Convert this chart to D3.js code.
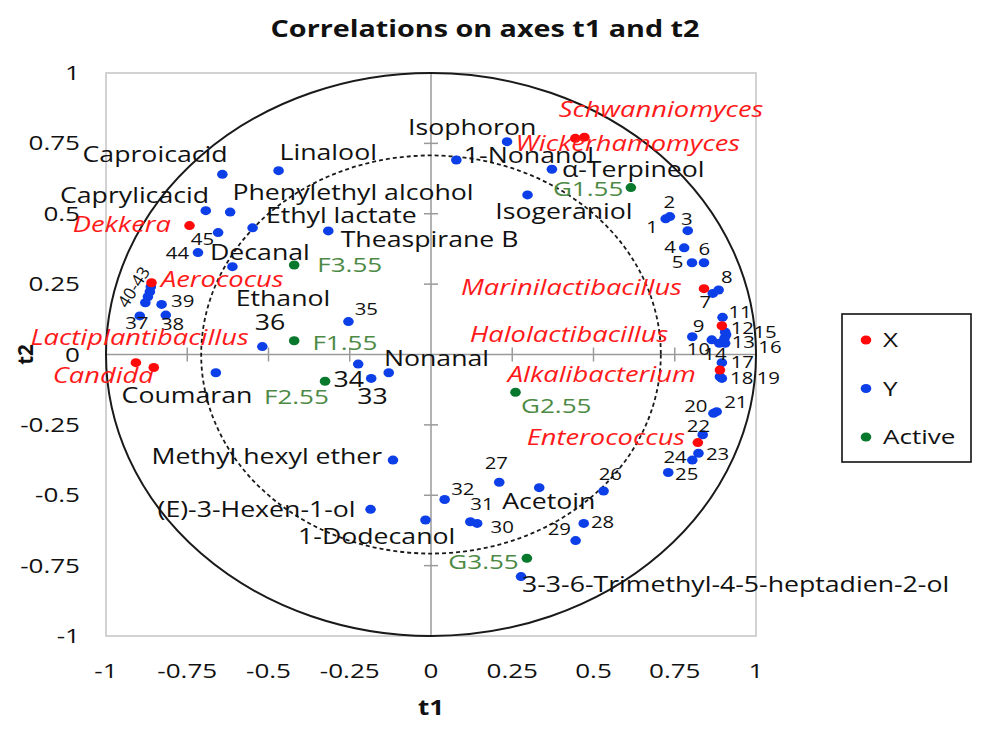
<!DOCTYPE html>
<html><head><meta charset="utf-8">
<script src="https://cdn.jsdelivr.net/npm/d3@7/dist/d3.min.js"></script>
<style>
body{margin:0;background:#fff;}
text{font-family:"Open Sans",sans-serif;}
</style></head><body>
<svg id="chart" width="981" height="731"></svg>
<script>
// ---------- data ----------
const tickValues = [-1, -0.75, -0.5, -0.25, 0, 0.25, 0.5, 0.75, 1];
const tickLabels = ["-1", "-0.75", "-0.5", "-0.25", "0", "0.25", "0.5", "0.75", "1"];
const innerRadius = Math.SQRT1_2;

// X variables (red)
const xPoints = [
  ["Dekkera", -0.743, 0.458],
  ["Aerococus", -0.860, 0.255],
  ["Lactiplantibacillus", -0.908, -0.029],
  ["Candida", -0.853, -0.046],
  ["Schwanniomyces", 0.444, 0.768],
  ["Wickerhamomyces", 0.472, 0.772],
  ["Marinilactibacillus", 0.840, 0.234],
  ["Halolactibacillus", 0.895, 0.102],
  ["Alkalibacterium", 0.889, -0.055],
  ["Enterococcus", 0.821, -0.313]
];

// Y variables (blue)
const yPoints = [
  ["Caproicacid", -0.642, 0.640],
  ["Linalool", -0.469, 0.653],
  ["Caprylicacid", -0.693, 0.511],
  ["Phenylethyl alcohol", -0.618, 0.506],
  ["45", -0.655, 0.433],
  ["Ethyl lactate", -0.549, 0.450],
  ["Theaspirane B", -0.316, 0.439],
  ["44", -0.717, 0.362],
  ["Decanal", -0.611, 0.312],
  ["40", -0.862, 0.241],
  ["41", -0.865, 0.223],
  ["42", -0.871, 0.205],
  ["43", -0.879, 0.184],
  ["39", -0.829, 0.178],
  ["37", -0.896, 0.137],
  ["38", -0.816, 0.140],
  ["35", -0.254, 0.117],
  ["36", -0.519, 0.028],
  ["Coumaran", -0.662, -0.065],
  ["34", -0.224, -0.034],
  ["33", -0.184, -0.085],
  ["Nonanal", -0.130, -0.065],
  ["Methyl hexyl ether", -0.117, -0.375],
  ["(E)-3-Hexen-1-ol", -0.186, -0.550],
  ["1-Dodecanol", -0.017, -0.588],
  ["Isophoron", 0.234, 0.756],
  ["1-Nonanol", 0.078, 0.691],
  ["α-Terpineol", 0.372, 0.658],
  ["Isogeraniol", 0.297, 0.567],
  ["1", 0.722, 0.482],
  ["2", 0.735, 0.490],
  ["3", 0.790, 0.440],
  ["4", 0.779, 0.379],
  ["5", 0.803, 0.326],
  ["6", 0.840, 0.326],
  ["7", 0.867, 0.217],
  ["8", 0.885, 0.229],
  ["9", 0.804, 0.063],
  ["10", 0.864, 0.052],
  ["11", 0.897, 0.132],
  ["12", 0.905, 0.080],
  ["13", 0.903, 0.057],
  ["14", 0.887, 0.040],
  ["15", 0.908, 0.070],
  ["16", 0.905, 0.040],
  ["17", 0.895, -0.029],
  ["18", 0.889, -0.079],
  ["19", 0.895, -0.085],
  ["20", 0.869, -0.209],
  ["21", 0.879, -0.203],
  ["22", 0.836, -0.285],
  ["23", 0.823, -0.351],
  ["24", 0.804, -0.375],
  ["25", 0.730, -0.419],
  ["26", 0.531, -0.485],
  ["27", 0.210, -0.454],
  ["Acetoin", 0.333, -0.473],
  ["28", 0.470, -0.600],
  ["29", 0.445, -0.661],
  ["30", 0.142, -0.600],
  ["31", 0.121, -0.594],
  ["32", 0.042, -0.515],
  ["3-3-6-Trimethyl-4-5-heptadien-2-ol", 0.277, -0.789]
];

// Active observations (green)
const activePoints = [
  ["F1.55", -0.421, 0.049],
  ["F2.55", -0.326, -0.095],
  ["F3.55", -0.421, 0.318],
  ["G1.55", 0.615, 0.593],
  ["G2.55", 0.260, -0.134],
  ["G3.55", 0.295, -0.724]
];

// label anchors in t1/t2 units: [text, t1, t2, anchor, kind]
const pointLabels = [
  ["Caproicacid", -0.626, 0.685, "end", "Y"],
  ["Linalool", -0.466, 0.691, "start", "Y"],
  ["Caprylicacid", -0.683, 0.539, "end", "Y"],
  ["Phenylethyl alcohol", -0.611, 0.549, "start", "Y"],
  ["Ethyl lactate", -0.508, 0.466, "start", "Y"],
  ["Theaspirane B", -0.278, 0.383, "start", "Y"],
  ["Decanal", -0.680, 0.336, "start", "Y"],
  ["Ethanol", -0.601, 0.172, "start", "Y"],
  ["Coumaran", -0.952, -0.171, "start", "Y"],
  ["Nonanal", -0.145, -0.041, "start", "Y"],
  ["Methyl hexyl ether", -0.150, -0.389, "end", "Y"],
  ["(E)-3-Hexen-1-ol", -0.232, -0.576, "end", "Y"],
  ["1-Dodecanol", -0.409, -0.673, "start", "Y"],
  ["Isophoron", 0.324, 0.780, "end", "Y"],
  ["1-Nonanol", 0.101, 0.679, "start", "Y"],
  ["α-Terpineol", 0.403, 0.629, "start", "Y"],
  ["Isogeraniol", 0.198, 0.480, "start", "Y"],
  ["Acetoin", 0.219, -0.550, "start", "Y"],
  ["3-3-6-Trimethyl-4-5-heptadien-2-ol", 0.280, -0.843, "start", "Y"],
  ["36", -0.542, 0.087, "start", "Y"],
  ["34", -0.300, -0.114, "start", "Y"],
  ["33", -0.227, -0.176, "start", "Y"],
  ["1", 0.662, 0.430, "start", "num"],
  ["2", 0.715, 0.521, "start", "num"],
  ["3", 0.769, 0.460, "start", "num"],
  ["4", 0.718, 0.362, "start", "num"],
  ["5", 0.741, 0.306, "start", "num"],
  ["6", 0.823, 0.353, "start", "num"],
  ["7", 0.826, 0.164, "start", "num"],
  ["8", 0.892, 0.255, "start", "num"],
  ["9", 0.805, 0.081, "start", "num"],
  ["10", 0.787, -0.002, "start", "num"],
  ["11", 0.915, 0.129, "start", "num"],
  ["12", 0.922, 0.073, "start", "num"],
  ["13", 0.925, 0.022, "start", "num"],
  ["14", 0.838, -0.020, "start", "num"],
  ["15", 0.992, 0.058, "start", "num"],
  ["16", 1.007, 0.004, "start", "num"],
  ["17", 0.922, -0.049, "start", "num"],
  ["18", 0.920, -0.105, "start", "num"],
  ["19", 1.002, -0.105, "start", "num"],
  ["20", 0.779, -0.203, "start", "num"],
  ["21", 0.902, -0.191, "start", "num"],
  ["22", 0.787, -0.274, "start", "num"],
  ["23", 0.846, -0.375, "start", "num"],
  ["24", 0.715, -0.384, "start", "num"],
  ["25", 0.751, -0.446, "start", "num"],
  ["26", 0.516, -0.446, "start", "num"],
  ["27", 0.165, -0.407, "start", "num"],
  ["28", 0.492, -0.617, "start", "num"],
  ["29", 0.359, -0.641, "start", "num"],
  ["30", 0.183, -0.635, "start", "num"],
  ["31", 0.121, -0.552, "start", "num"],
  ["32", 0.062, -0.499, "start", "num"],
  ["35", -0.235, 0.140, "start", "num"],
  ["37", -0.941, 0.090, "start", "num"],
  ["38", -0.831, 0.088, "start", "num"],
  ["39", -0.800, 0.170, "start", "num"],
  ["44", -0.816, 0.338, "start", "num"],
  ["45", -0.739, 0.389, "start", "num"],
  ["40-43", -0.911, 0.237, "middle", "numRot"],
  ["Dekkera", -0.800, 0.436, "end", "X"],
  ["Aerococus", -0.831, 0.241, "start", "X"],
  ["Lactiplantibacillus", -0.561, 0.034, "end", "X"],
  ["Candida", -0.853, -0.102, "end", "X"],
  ["Schwanniomyces", 0.393, 0.845, "start", "X"],
  ["Wickerhamomyces", 0.260, 0.724, "start", "X"],
  ["Marinilactibacillus", 0.772, 0.211, "end", "X"],
  ["Halolactibacillus", 0.730, 0.045, "end", "X"],
  ["Alkalibacterium", 0.236, -0.097, "start", "X"],
  ["Enterococcus", 0.782, -0.321, "end", "X"],
  ["F3.55", -0.350, 0.294, "start", "Active"],
  ["F1.55", -0.365, 0.016, "start", "Active"],
  ["F2.55", -0.514, -0.176, "start", "Active"],
  ["G1.55", 0.375, 0.563, "start", "Active"],
  ["G2.55", 0.277, -0.209, "start", "Active"],
  ["G3.55", 0.270, -0.763, "end", "Active"]
];

const legendItems = ["X", "Y", "Active"];

// ---------- styles ----------
const dotColor = {X: "#ff0a0a", Y: "#0d3fe8", Active: "#08782c"};
const labelStyle = {
  Y: {fill: "#111", size: 21, italic: false, hs: 1.27},
  num: {fill: "#111", size: 17, italic: false, hs: 1.2},
  numRot: {fill: "#111", size: 17, italic: false, hs: 1.0},
  X: {fill: "#ff1a1a", size: 21.5, italic: true, hs: 1.27},
  Active: {fill: "#4d8a45", size: 20.5, italic: false, hs: 1.27}
};
const HS = 1.27; // horizontal text stretch of the reference

// ---------- drawing ----------
const svg = d3.select("#chart");
const x = d3.scaleLinear().domain([-1, 1]).range([106, 756]);
const y = d3.scaleLinear().domain([-1, 1]).range([636, 73]);

function txt(g, px, py, s, o) {
  const t = g.append("text")
    .attr("transform", `translate(${px},${py})` + (o.rotate ? ` rotate(${o.rotate})` : "") + ` scale(${o.hs || HS},1)`)
    .attr("text-anchor", o.anchor || "start")
    .attr("font-size", o.size)
    .attr("fill", o.fill || "#111")
    .text(s);
  if (o.bold) t.attr("font-weight", "bold");
  if (o.italic) t.attr("font-style", "italic");
  if (o.baseline) t.attr("dominant-baseline", o.baseline);
  return t;
}

// title
txt(svg, 485, 37, "Correlations on axes t1 and t2", {anchor: "middle", size: 23, bold: true, hs: 1.25});

// frame
svg.append("rect")
  .attr("x", x(-1)).attr("y", y(1))
  .attr("width", x(1) - x(-1)).attr("height", y(-1) - y(1))
  .attr("fill", "none").attr("stroke", "#c4c4c4").attr("stroke-width", 1.5);

// zero axes
svg.append("line").attr("x1", x(-1)).attr("x2", x(1)).attr("y1", y(0)).attr("y2", y(0))
  .attr("stroke", "#9a9a9a").attr("stroke-width", 1.5);
svg.append("line").attr("x1", x(0)).attr("x2", x(0)).attr("y1", y(1)).attr("y2", y(-1))
  .attr("stroke", "#9a9a9a").attr("stroke-width", 1.5);

// cross tick marks on the zero axes
const innerTicks = tickValues.filter(v => v !== 0 && Math.abs(v) !== 1);
svg.selectAll(".xt").data(innerTicks).enter().append("line")
  .attr("x1", d => x(d)).attr("x2", d => x(d))
  .attr("y1", y(0) - 7).attr("y2", y(0) + 7)
  .attr("stroke", "#9a9a9a").attr("stroke-width", 1.5);
svg.selectAll(".yt").data(innerTicks).enter().append("line")
  .attr("y1", d => y(d)).attr("y2", d => y(d))
  .attr("x1", x(0) - 7).attr("x2", x(0) + 7)
  .attr("stroke", "#9a9a9a").attr("stroke-width", 1.5);

// tick labels
tickValues.forEach((v, i) => {
  txt(svg, x(v), 678, tickLabels[i], {anchor: "middle", size: 20.5});
  txt(svg, 80, y(v) + 7, tickLabels[i], {anchor: "end", size: 20.5});
});

// axis titles
txt(svg, x(0), 715, "t1", {anchor: "middle", size: 20.5, bold: true});
svg.append("text")
  .attr("transform", `translate(33,${y(0)}) rotate(-90)`)
  .attr("text-anchor", "middle").attr("font-size", 20.5).attr("font-weight", "bold")
  .attr("fill", "#111").text("t2");

// correlation circles
svg.append("ellipse")
  .attr("cx", x(0)).attr("cy", y(0))
  .attr("rx", x(1) - x(0)).attr("ry", y(0) - y(1))
  .attr("fill", "none").attr("stroke", "#1a1a1a").attr("stroke-width", 2);
svg.append("ellipse")
  .attr("cx", x(0)).attr("cy", y(0))
  .attr("rx", x(innerRadius) - x(0)).attr("ry", y(0) - y(innerRadius))
  .attr("fill", "none").attr("stroke", "#1a1a1a").attr("stroke-width", 1.8)
  .attr("stroke-dasharray", "4,3");

// points
function dots(data, kind) {
  svg.append("g").selectAll("ellipse").data(data).enter().append("ellipse")
    .attr("cx", d => x(d[1])).attr("cy", d => y(d[2]))
    .attr("rx", 5.3).attr("ry", 4.5)
    .attr("fill", dotColor[kind]);
}
dots(yPoints, "Y");
dots(xPoints, "X");
dots(activePoints, "Active");

// labels
const lg = svg.append("g");
pointLabels.forEach(([s, t1, t2, anchor, kind]) => {
  const st = labelStyle[kind];
  txt(lg, x(t1), y(t2), s, {
    anchor, size: st.size, fill: st.fill, italic: st.italic, hs: st.hs,
    rotate: kind === "numRot" ? -58 : 0,
    baseline: kind === "numRot" ? "middle" : null
  });
});

// legend
const leg = svg.append("g");
leg.append("rect").attr("x", 842).attr("y", 314).attr("width", 129).attr("height", 148)
  .attr("fill", "#fff").attr("stroke", "#111").attr("stroke-width", 1.6);
legendItems.forEach((k, i) => {
  const cy = 340 + i * 48.5;
  leg.append("ellipse").attr("cx", 866).attr("cy", cy).attr("rx", 5.3).attr("ry", 4.5).attr("fill", dotColor[k]);
  txt(leg, 883, cy + 7, k, {size: 20.5});
});
</script>
</body></html>
